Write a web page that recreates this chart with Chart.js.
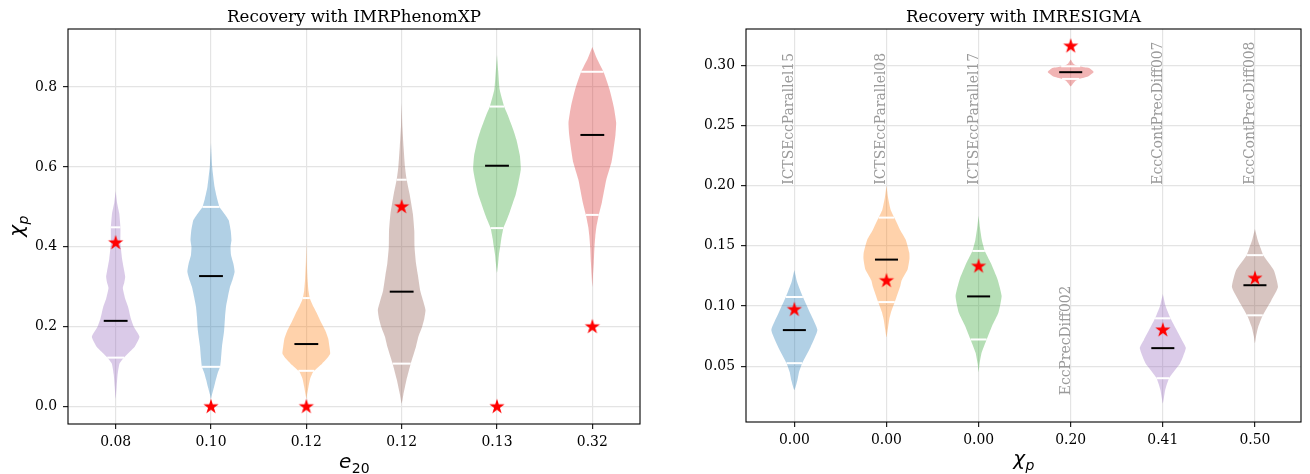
<!DOCTYPE html>
<html>
<head>
<meta charset="utf-8">
<script src="https://cdn.jsdelivr.net/npm/chart.js@4.4.1/dist/chart.umd.min.js"></script>
<style>
  html, body { margin: 0; padding: 0; background: #fff; }
  #wrap { position: relative; width: 1310px; height: 474px; overflow: hidden; }
  canvas { position: absolute; top: 0; }
</style>
</head>
<body>
<div id="wrap">
  <canvas id="phenom" width="655" height="474" style="left:0"></canvas>
  <canvas id="sigma" width="655" height="474" style="left:655px"></canvas>
</div>
<script>
// ---------- IMRPhenomXP recovery: chi_p posteriors, one violin per e20 injection ----------
const phenomLabels = ['0.08', '0.10', '0.12', '0.12', '0.13', '0.32'];
const phenomYTicks = [0.0, 0.2, 0.4, 0.6, 0.8];
const phenomMedians = [0.215, 0.327, 0.157, 0.288, 0.603, 0.680];
const phenomQuantiles = [[0.123, 0.449], [0.100, 0.500], [0.090, 0.272], [0.108, 0.568], [0.447, 0.751], [0.480, 0.838]];
const phenomInjected = [0.41, 0.0, 0.0, 0.50, 0.0, 0.20];
// density profiles: [chi_p, relative density], from top to bottom
const phenomProfiles = [
  [[0.54,0],[0.51,0.06],[0.484,0.15],[0.449,0.2],[0.41,0.2],[0.37,0.27],[0.34,0.36],[0.325,0.4],[0.31,0.36],[0.297,0.3],[0.27,0.4],[0.25,0.52],[0.22,0.64],[0.2,0.76],[0.175,1.0],[0.15,0.8],[0.135,0.55],[0.125,0.38],[0.108,0.16],[0.08,0.08],[0.05,0.04],[0.02,0]],
  [[0.66,0],[0.6,0.05],[0.55,0.15],[0.52,0.26],[0.5,0.36],[0.48,0.6],[0.467,0.74],[0.44,0.83],[0.417,0.86],[0.4,0.82],[0.38,0.84],[0.358,0.94],[0.338,0.99],[0.317,0.9],[0.3,0.8],[0.275,0.71],[0.25,0.63],[0.225,0.59],[0.19,0.55],[0.15,0.46],[0.12,0.42],[0.1,0.38],[0.084,0.28],[0.067,0.2],[0.05,0.13],[0.03,0.04],[0.02,0]],
  [[0.41,0],[0.36,0.02],[0.32,0.05],[0.29,0.09],[0.271,0.15],[0.25,0.3],[0.233,0.45],[0.21,0.63],[0.19,0.8],[0.17,0.92],[0.15,0.97],[0.133,1.0],[0.12,0.85],[0.108,0.66],[0.0875,0.29],[0.07,0.16],[0.05,0.09],[0.03,0.03],[0.02,0]],
  [[0.76,0],[0.7,0.03],[0.65,0.08],[0.6,0.14],[0.568,0.21],[0.533,0.33],[0.483,0.47],[0.44,0.53],[0.4,0.54],[0.36,0.6],[0.33,0.68],[0.29,0.78],[0.265,0.9],[0.242,1.0],[0.22,0.95],[0.2,0.86],[0.175,0.7],[0.15,0.6],[0.108,0.38],[0.067,0.2],[0.03,0.07],[0.008,0]],
  [[0.88,0],[0.84,0.05],[0.794,0.11],[0.751,0.3],[0.73,0.45],[0.711,0.57],[0.69,0.7],[0.669,0.81],[0.628,0.96],[0.594,1.0],[0.561,0.9],[0.53,0.78],[0.511,0.67],[0.49,0.55],[0.469,0.42],[0.447,0.27],[0.42,0.18],[0.403,0.14],[0.38,0.08],[0.361,0.05],[0.335,0]],
  [[0.9,0],[0.87,0.2],[0.838,0.47],[0.794,0.72],[0.75,0.9],[0.711,1.0],[0.68,0.97],[0.64,0.88],[0.611,0.8],[0.569,0.59],[0.511,0.4],[0.48,0.27],[0.45,0.17],[0.4275,0.125],[0.4,0.09],[0.361,0.06],[0.33,0.03],[0.3,0]]
];

// ---------- IMRESIGMA recovery: e20 posteriors, one violin per chi_p injection ----------
const sigmaLabels = ['0.00', '0.00', '0.00', '0.20', '0.41', '0.50'];
const sigmaRuns = ['ICTSEccParallel15', 'ICTSEccParallel08', 'ICTSEccParallel17', 'EccPrecDiff002', 'EccContPrecDiff007', 'EccContPrecDiff008'];
const sigmaYTicks = [0.05, 0.10, 0.15, 0.20, 0.25, 0.30];
const sigmaMedians = [0.080, 0.1386, 0.108, 0.2944, 0.065, 0.1173];
const sigmaQuantiles = [[0.0525, 0.1075], [0.1033, 0.1735], [0.0722, 0.1458], [0.2888, 0.2993], [0.0400, 0.0898], [0.0923, 0.1423]];
const sigmaInjected = [0.097, 0.121, 0.133, 0.316, 0.080, 0.123];
const sigmaProfiles = [
  [[0.13,0],[0.12,0.12],[0.1075,0.37],[0.0936,0.7],[0.08,1.0],[0.0658,0.7],[0.0525,0.34],[0.045,0.2],[0.038,0.13],[0.03,0]],
  [[0.2,0],[0.19,0.07],[0.18,0.18],[0.1735,0.34],[0.163,0.6],[0.155,0.84],[0.1444,0.99],[0.1395,1.0],[0.1306,0.92],[0.1214,0.66],[0.1167,0.6],[0.1033,0.36],[0.095,0.2],[0.0889,0.12],[0.08,0.05],[0.074,0]],
  [[0.175,0],[0.165,0.06],[0.155,0.14],[0.1458,0.27],[0.1361,0.52],[0.1222,0.82],[0.1083,1.0],[0.0944,0.86],[0.0833,0.58],[0.0722,0.35],[0.0611,0.13],[0.052,0.04],[0.045,0]],
  [[0.305,0],[0.3015,0.12],[0.3,0.25],[0.2985,0.6],[0.2978,0.8],[0.2945,1.0],[0.2908,0.75],[0.289,0.4],[0.2875,0.22],[0.285,0.1],[0.2825,0]],
  [[0.11,0],[0.1,0.12],[0.09,0.33],[0.08,0.6],[0.072,0.82],[0.0653,1.0],[0.058,0.88],[0.052,0.74],[0.0403,0.28],[0.03,0.1],[0.019,0]],
  [[0.164,0],[0.155,0.12],[0.148,0.25],[0.1423,0.36],[0.1298,0.82],[0.1158,1.0],[0.1047,0.71],[0.0923,0.34],[0.0825,0.14],[0.075,0.05],[0.069,0]]
];

// ---------- styling ----------
const TAB = { blue: '#1f77b4', orange: '#ff7f0e', green: '#2ca02c', red: '#d62728', purple: '#9467bd', brown: '#8c564b' };
const phenomColors = [TAB.purple, TAB.blue, TAB.orange, TAB.brown, TAB.green, TAB.red];
const sigmaColors = [TAB.blue, TAB.orange, TAB.green, TAB.red, TAB.purple, TAB.brown];
const VIOLIN_HALF = 0.25;     // widest half-width of a violin, in category units
const MEDIAN_HALF = 0.125;    // half-length of the median bar
const BODY_ALPHA = 0.35;
const SERIF = '"DejaVu Serif", "Liberation Serif", serif';
const SANS = '"DejaVu Sans", sans-serif';
const RUN_LABEL_HIGH = 0.20;  // run names sit above this e20 ...
const RUN_LABEL_LOW = 0.025;  // ... unless the violin itself lives up there

function withAlpha(hex, a) {
  const n = parseInt(hex.slice(1), 16);
  return `rgba(${(n >> 16) & 255},${(n >> 8) & 255},${n & 255},${a})`;
}

function densityAt(profile, v) {
  for (let k = 0; k < profile.length - 1; k++) {
    const [v0, d0] = profile[k], [v1, d1] = profile[k + 1];
    if (v <= v0 && v >= v1) return v0 === v1 ? Math.max(d0, d1) : d0 + (d1 - d0) * (v0 - v) / (v0 - v1);
  }
  return 0;
}

function violinOutline(profile, pos) {
  const right = profile.map(([v, d]) => ({ x: pos + VIOLIN_HALF * d, y: v }));
  const left = profile.slice(1, -1).reverse().map(([v, d]) => ({ x: pos - VIOLIN_HALF * d, y: v }));
  return right.concat(left);
}

function makeStar(R, color) {
  const s = Math.ceil(2 * R + 2);
  const c = document.createElement('canvas');
  c.width = s; c.height = s;
  const g = c.getContext('2d');
  g.fillStyle = color;
  g.beginPath();
  for (let k = 0; k < 10; k++) {
    const r = k % 2 ? R * 0.381966 : R;
    const a = -Math.PI / 2 + k * Math.PI / 5;
    g.lineTo(s / 2 + r * Math.cos(a), s / 2 + r * Math.sin(a));
  }
  g.closePath();
  g.fill();
  return c;
}
const STAR = makeStar(8, '#ff0000');

function buildDatasets(profiles, medians, quantiles, injected, colors) {
  const sets = [];
  sets.push({
    data: injected.map((v, i) => ({ x: i + 1, y: v })),
    pointStyle: STAR, pointRadius: 8, showLine: false, order: 0
  });
  medians.forEach((m, i) => sets.push({
    data: [{ x: i + 1 - MEDIAN_HALF, y: m }, { x: i + 1 + MEDIAN_HALF, y: m }],
    showLine: true, borderColor: '#000', borderWidth: 2, pointRadius: 0, order: 1
  }));
  quantiles.forEach((qs, i) => qs.forEach(q => {
    const w = VIOLIN_HALF * densityAt(profiles[i], q);
    sets.push({
      data: [{ x: i + 1 - w, y: q }, { x: i + 1 + w, y: q }],
      showLine: true, borderColor: '#fff', borderWidth: 2, pointRadius: 0, order: 2
    });
  }));
  profiles.forEach((p, i) => sets.push({
    data: violinOutline(p, i + 1),
    showLine: true, fill: 'shape', backgroundColor: withAlpha(colors[i], BODY_ALPHA),
    borderColor: 'rgba(0,0,0,0)', borderWidth: 0, pointRadius: 0, tension: 0.15, order: 3
  }));
  return sets;
}

// math-style axis label: italic symbol with a subscript
function drawMathLabel(ctx, cx, baseY, sym, sub, subItalic, rotate) {
  ctx.save();
  ctx.translate(cx, baseY);
  if (rotate) ctx.rotate(-Math.PI / 2);
  const fBase = `italic 20px ${SANS}`;
  const fSub = `${subItalic ? 'italic ' : ''}14px ${SANS}`;
  ctx.font = fBase; const wb = ctx.measureText(sym).width;
  ctx.font = fSub; const ws = ctx.measureText(sub).width;
  const x0 = -(wb + ws) / 2;
  ctx.fillStyle = '#000';
  ctx.textBaseline = 'alphabetic';
  ctx.textAlign = 'left';
  ctx.font = fBase; ctx.fillText(sym, x0, 0);
  ctx.font = fSub; ctx.fillText(sub, x0 + wb + 0.5, 4.5);
  ctx.restore();
}

function decorPlugin(cfg) {
  return {
    id: 'decor',
    beforeDatasetsDraw(chart) {
      if (!cfg.runs) return;
      const { ctx } = chart;
      const xs = chart.scales.x, ys = chart.scales.y;
      ctx.save();
      ctx.font = `13.9px ${SERIF}`;
      ctx.fillStyle = '#9a9a9a';
      ctx.textAlign = 'left';
      ctx.textBaseline = 'alphabetic';
      cfg.runs.forEach((name, i) => {
        const anchor = cfg.medians[i] > RUN_LABEL_HIGH ? RUN_LABEL_LOW : RUN_LABEL_HIGH;
        ctx.save();
        ctx.translate(xs.getPixelForValue(i + 1) - 1, ys.getPixelForValue(anchor) - 1);
        ctx.rotate(-Math.PI / 2);
        ctx.fillText(name, 0, 0);
        ctx.restore();
      });
      ctx.restore();
    },
    afterDraw(chart) {
      const { ctx, chartArea: a } = chart;
      ctx.save();
      // frame
      ctx.strokeStyle = '#000';
      ctx.lineWidth = 1.1;
      ctx.strokeRect(a.left, a.top, a.right - a.left, a.bottom - a.top);
      // title
      ctx.fillStyle = '#000';
      ctx.font = `16.7px ${SERIF}`;
      ctx.textAlign = 'center';
      ctx.textBaseline = 'alphabetic';
      ctx.fillText(cfg.title, (a.left + a.right) / 2, a.top - 7.5);
      ctx.restore();
      // axis labels
      const mid = (a.left + a.right) / 2;
      drawMathLabel(ctx, mid, cfg.xLabelBase, cfg.xLabel[0], cfg.xLabel[1], cfg.xLabel[2], false);
      drawMathLabel(ctx, cfg.yLabelBase, (a.top + a.bottom) / 2, cfg.yLabel[0], cfg.yLabel[1], cfg.yLabel[2], true);
    }
  };
}

function makeChart(id, o) {
  const tickFont = { family: SERIF, size: 13.9 };
  return new Chart(document.getElementById(id), {
    type: 'scatter',
    data: { datasets: buildDatasets(o.profiles, o.medians, o.quantiles, o.injected, o.colors) },
    options: {
      responsive: false, animation: false, events: [],
      layout: { padding: { left: 0, top: 29, right: o.padRight, bottom: 0 } },
      plugins: { legend: { display: false }, tooltip: { enabled: false }, title: { display: false } },
      scales: {
        x: {
          type: 'linear', min: o.xMin, max: 6.5,
          afterBuildTicks: s => { s.ticks = o.labels.map((_, i) => ({ value: i + 1 })); },
          afterFit: s => { s.height = o.xAxisHeight; },
          ticks: { callback: v => o.labels[v - 1], font: tickFont, color: '#000', padding: 5, maxRotation: 0, autoSkip: false },
          grid: { color: '#e4e4e4', lineWidth: 1.2, tickColor: '#222', tickLength: 5 },
          border: { display: false }
        },
        y: {
          type: 'linear', min: o.yMin, max: o.yMax,
          afterBuildTicks: s => { s.ticks = o.yTicks.map(v => ({ value: v })); },
          afterFit: s => { s.width = o.yAxisWidth; },
          ticks: { callback: v => v.toFixed(o.decimals), font: tickFont, color: '#000', padding: 6 },
          grid: { color: '#e4e4e4', lineWidth: 1.2, tickColor: '#222', tickLength: 5 },
          border: { display: false }
        }
      }
    },
    plugins: [decorPlugin(o.decor)]
  });
}

makeChart('phenom', {
  profiles: phenomProfiles, medians: phenomMedians, quantiles: phenomQuantiles,
  injected: phenomInjected, colors: phenomColors, labels: phenomLabels, yTicks: phenomYTicks,
  xMin: 0.5, yMin: -0.043, yMax: 0.945, decimals: 1,
  yAxisWidth: 68, xAxisHeight: 50, padRight: 15,
  decor: { title: 'Recovery with IMRPhenomXP', xLabel: ['e', '20', false], yLabel: ['\u03c7', 'p', true], xLabelBase: 468, yLabelBase: 23 }
});

makeChart('sigma', {
  profiles: sigmaProfiles, medians: sigmaMedians, quantiles: sigmaQuantiles,
  injected: sigmaInjected, colors: sigmaColors, labels: sigmaLabels, yTicks: sigmaYTicks,
  xMin: 0.475, yMin: 0.0036, yMax: 0.3303, decimals: 2,
  yAxisWidth: 91, xAxisHeight: 52, padRight: 1,
  decor: { title: 'Recovery with IMRESIGMA', xLabel: ['\u03c7', 'p', true], yLabel: ['e', '20', false], xLabelBase: 465, yLabelBase: 694, runs: sigmaRuns, medians: sigmaMedians }
});
</script>
</body>
</html>
